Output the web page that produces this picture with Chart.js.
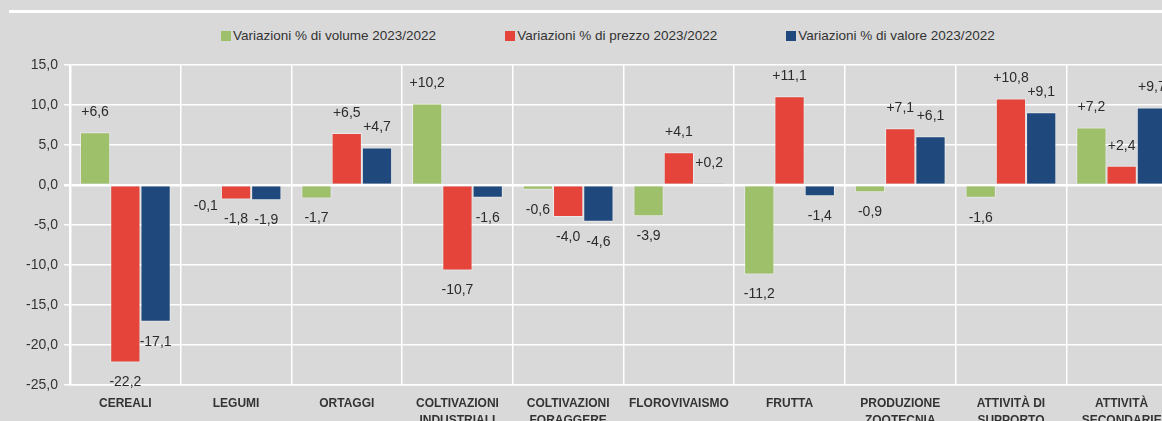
<!DOCTYPE html>
<html lang="it">
<head>
<meta charset="utf-8">
<title>Variazioni % 2023/2022</title>
<script src="https://cdn.jsdelivr.net/npm/chart.js@4/dist/chart.umd.min.js"></script>
<style>
    html, body {
        margin: 0;
        padding: 0;
        width: 1162px;
        height: 421px;
        overflow: hidden;
        background: #d9d9d9;
        font-family: "Liberation Sans", Arial, sans-serif;
    }
    #topRule {
        position: absolute;
        left: 9px;
        top: 10px;
        width: 1200px;
        height: 3px;
        background: #fff;
    }
    #legend {
        position: absolute;
        left: 221px;
        top: 28px;
        display: flex;
        gap: 69px;
        font-size: 13.5px;
        color: #333;
        white-space: nowrap;
    }
    #legend .item { display: flex; align-items: center; }
    #legend .box { width: 10px; height: 10px; margin-right: 2px; }
    #chartCanvas { position: absolute; left: 0; top: 0; }
</style>
</head>
<body>
<div id="topRule"></div>
<div id="legend"></div>
<canvas id="chartCanvas" width="1190" height="440"></canvas>
<script>
// --- data ---
const categories = [
    "CEREALI",
    "LEGUMI",
    "ORTAGGI",
    ["COLTIVAZIONI", "INDUSTRIALI"],
    ["COLTIVAZIONI", "FORAGGERE"],
    "FLOROVIVAISMO",
    "FRUTTA",
    ["PRODUZIONE", "ZOOTECNIA"],
    ["ATTIVITÀ DI", "SUPPORTO"],
    ["ATTIVITÀ", "SECONDARIE"],
];
const seriesNames = [
    "Variazioni % di volume 2023/2022",
    "Variazioni % di prezzo 2023/2022",
    "Variazioni % di valore 2023/2022",
];
const volume = [6.6, -0.1, -1.7, 10.2, -0.6, -3.9, -11.2, -0.9, -1.6, 7.2];
const prezzo = [-22.2, -1.8, 6.5, -10.7, -4.0, 4.1, 11.1, 7.1, 10.8, 2.4];
const valore = [-17.1, -1.9, 4.7, -1.6, -4.6, 0.2, -1.4, 6.1, 9.1, 9.7];
const yTicks = [-25, -20, -15, -10, -5, 0, 5, 10, 15];

const colors = ["#9fc06a", "#e44439", "#1f497d"];
const fmt = (v) => v.toFixed(1).replace(".", ",");

// --- html legend ---
const legendEl = document.getElementById("legend");
seriesNames.forEach((name, i) => {
    const item = document.createElement("div");
    item.className = "item";
    item.innerHTML = '<span class="box" style="background:' + colors[i] + '"></span><span></span>';
    item.lastChild.textContent = name;
    legendEl.appendChild(item);
});

// --- value labels above / below bars ---
const valueLabels = {
    id: "valueLabels",
    afterDatasetsDraw(chart) {
        const ctx = chart.ctx;
        ctx.save();
        ctx.font = '14px "Liberation Sans", Arial, sans-serif';
        ctx.fillStyle = "#2b2b2b";
        ctx.textAlign = "center";
        ctx.textBaseline = "middle";
        chart.data.datasets.forEach((ds, di) => {
            const meta = chart.getDatasetMeta(di);
            meta.data.forEach((bar, i) => {
                const v = ds.data[i];
                const txt = (v > 0 ? "+" : "") + fmt(v);
                const y = v >= 0 ? bar.y - 20 : bar.y + 20;
                ctx.fillText(txt, bar.x, y);
            });
        });
        ctx.restore();
    },
};

const seriesData = [volume, prezzo, valore];

new Chart(document.getElementById("chartCanvas"), {
    type: "bar",
    data: {
        labels: categories,
        datasets: seriesNames.map((name, i) => ({
            label: name,
            data: seriesData[i],
            backgroundColor: colors[i],
            borderColor: "rgba(255,255,255,0.45)",
            borderWidth: 1,
            categoryPercentage: 0.82,
            barPercentage: 1.0,
        })),
    },
    options: {
        responsive: false,
        animation: false,
        devicePixelRatio: 1,
        layout: { padding: { top: 65, right: 13, left: 0, bottom: 0 } },
        plugins: {
            legend: { display: false },
            tooltip: { enabled: false },
        },
        scales: {
            x: {
                afterFit: (s) => { s.height = 55; },
                grid: {
                    color: "#ffffff",
                    lineWidth: 1.5,
                    drawTicks: false,
                    offset: true,
                },
                border: { color: "#ffffff", width: 1.5 },
                ticks: {
                    color: "#333",
                    padding: 10,
                    maxRotation: 0,
                    autoSkip: false,
                    font: { family: '"Liberation Sans", Arial, sans-serif', size: 12, weight: "bold", lineHeight: 1.4 },
                },
            },
            y: {
                min: yTicks[0],
                max: yTicks[yTicks.length - 1],
                afterFit: (s) => { s.width = 70; },
                afterBuildTicks: (s) => { s.ticks = yTicks.map((v) => ({ value: v })); },
                grid: {
                    color: "#ffffff",
                    lineWidth: (c) => (c.tick && c.tick.value === 0 ? 2.5 : 1.5),
                    tickLength: 6,
                },
                border: { color: "#ffffff", width: 2.5 },
                ticks: {
                    color: "#333",
                    padding: 6,
                    font: { family: '"Liberation Sans", Arial, sans-serif', size: 14 },
                    callback: (v) => fmt(v),
                },
            },
        },
    },
    plugins: [valueLabels],
});
</script>
</body>
</html>
